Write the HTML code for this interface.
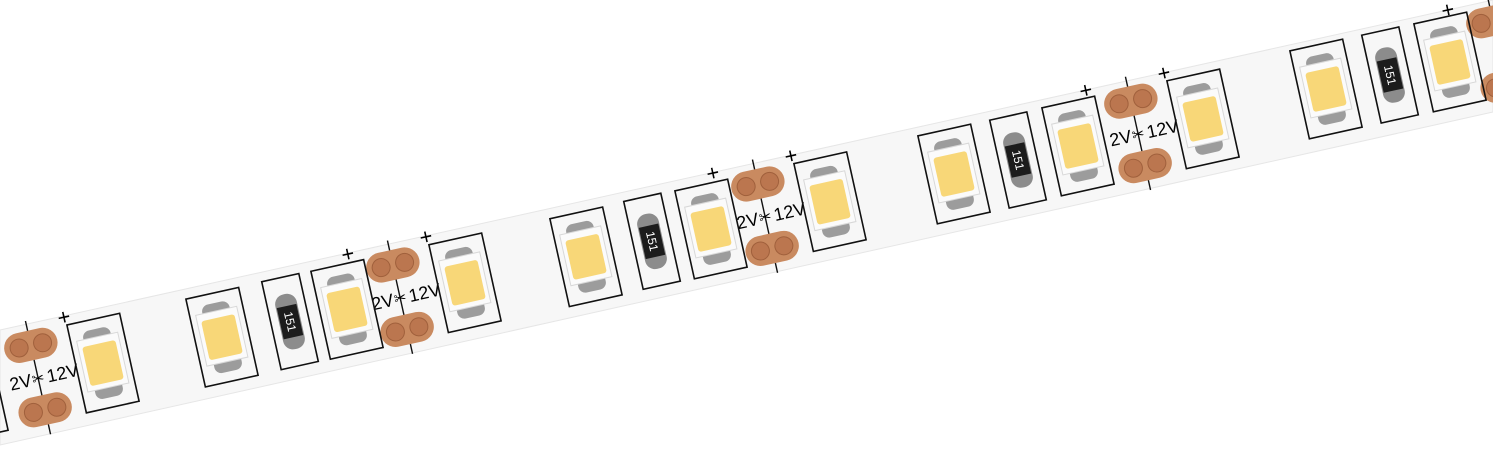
<!DOCTYPE html>
<html><head><meta charset="utf-8"><style>
html,body{margin:0;padding:0;background:#fff;width:1493px;height:460px;overflow:hidden}
svg text{font-family:"Liberation Sans",sans-serif}
</style></head><body>
<svg width="1493" height="460" viewBox="0 0 1493 460" xmlns="http://www.w3.org/2000/svg">
<defs>
<g id="led">
<rect x="-27" y="-45" width="54" height="90" fill="none" stroke="#111" stroke-width="1.6"/>
<rect x="-14" y="-35" width="28" height="18" rx="7" fill="#9c9c9c"/>
<rect x="-14" y="17" width="28" height="18" rx="7" fill="#9c9c9c"/>
<rect x="-21" y="-27" width="42" height="52" fill="#fbfbfb" stroke="#d8d8d8"/>
<rect x="-17" y="-20" width="34" height="40" rx="3" fill="#f8d778"/>
</g>
<g id="res">
<rect x="-19" y="-45" width="38" height="90" fill="none" stroke="#111" stroke-width="1.6"/>
<rect x="-11" y="-28" width="22" height="56" rx="10" fill="#8c8c8c"/>
<rect x="-10" y="-16" width="20" height="32" fill="#1c1c1c"/>
</g>
<g id="cut">
<line x1="0" y1="-58" x2="0" y2="58" stroke="#111" stroke-width="1.4"/>
<rect x="-27" y="-48" width="54" height="30" rx="15" fill="#c98a60"/>
<circle cx="-12" cy="-33" r="9" fill="#bb764f" stroke="#a0603c"/>
<circle cx="12" cy="-33" r="9" fill="#bb764f" stroke="#a0603c"/>
<rect x="-27" y="18" width="54" height="30" rx="15" fill="#c98a60"/>
<circle cx="-12" cy="33" r="9" fill="#bb764f" stroke="#a0603c"/>
<circle cx="12" cy="33" r="9" fill="#bb764f" stroke="#a0603c"/>
</g>
</defs>
<polygon points="0,330 1493,0 1493,112 0,445" fill="#f7f7f7" stroke="#e6e6e6"/>

<g transform="translate(38,377.6) rotate(-12.5)"><use href="#cut"/><text x="-7" y="7" font-size="18" text-anchor="end">2V</text><text x="9" y="7" font-size="18">12V</text><text x="0" y="6" font-size="15" text-anchor="middle">✂</text><text x="32" y="-46" font-size="22">+</text></g>
<g transform="translate(400,297.2) rotate(-12.5)"><use href="#cut"/><text x="-7" y="7" font-size="18" text-anchor="end">2V</text><text x="9" y="7" font-size="18">12V</text><text x="0" y="6" font-size="15" text-anchor="middle">✂</text><text x="32" y="-46" font-size="22">+</text><text x="-48" y="-46" font-size="22">+</text></g>
<g transform="translate(765,216.2) rotate(-12.5)"><use href="#cut"/><text x="-7" y="7" font-size="18" text-anchor="end">2V</text><text x="9" y="7" font-size="18">12V</text><text x="0" y="6" font-size="15" text-anchor="middle">✂</text><text x="32" y="-46" font-size="22">+</text><text x="-48" y="-46" font-size="22">+</text></g>
<g transform="translate(1138,133.4) rotate(-12.5)"><use href="#cut"/><text x="-7" y="7" font-size="18" text-anchor="end">2V</text><text x="9" y="7" font-size="18">12V</text><text x="0" y="6" font-size="15" text-anchor="middle">✂</text><text x="32" y="-46" font-size="22">+</text><text x="-48" y="-46" font-size="22">+</text></g>
<g transform="translate(1500,53) rotate(-12.5)"><use href="#cut"/><text x="-48" y="-46" font-size="22">+</text></g>

<g transform="translate(-28,392.2) rotate(-12.5)"><use href="#led"/></g>
<g transform="translate(103,363.1) rotate(-12.5)"><use href="#led"/></g>
<g transform="translate(222,337.2) rotate(-12.5)"><use href="#led"/></g>
<g transform="translate(347,309.4) rotate(-12.5)"><use href="#led"/></g>
<g transform="translate(465,282.8) rotate(-12.5)"><use href="#led"/></g>
<g transform="translate(586,256.8) rotate(-12.5)"><use href="#led"/></g>
<g transform="translate(711,229) rotate(-12.5)"><use href="#led"/></g>
<g transform="translate(830,201.7) rotate(-12.5)"><use href="#led"/></g>
<g transform="translate(954,174) rotate(-12.5)"><use href="#led"/></g>
<g transform="translate(1078,146) rotate(-12.5)"><use href="#led"/></g>
<g transform="translate(1203,118.9) rotate(-12.5)"><use href="#led"/></g>
<g transform="translate(1326,89) rotate(-12.5)"><use href="#led"/></g>
<g transform="translate(1450,62) rotate(-12.5)"><use href="#led"/></g>

<g transform="translate(290,321.6) rotate(-12.5)"><use href="#res"/><text transform="rotate(90)" x="0" y="4" font-size="12" fill="#fff" text-anchor="middle">151</text></g>
<g transform="translate(652,241.3) rotate(-12.5)"><use href="#res"/><text transform="rotate(90)" x="0" y="4" font-size="12" fill="#fff" text-anchor="middle">151</text></g>
<g transform="translate(1018,160) rotate(-12.5)"><use href="#res"/><text transform="rotate(90)" x="0" y="4" font-size="12" fill="#fff" text-anchor="middle">151</text></g>
<g transform="translate(1390,75) rotate(-12.5)"><use href="#res"/><text transform="rotate(90)" x="0" y="4" font-size="12" fill="#fff" text-anchor="middle">151</text></g>
</svg>
</body></html>
